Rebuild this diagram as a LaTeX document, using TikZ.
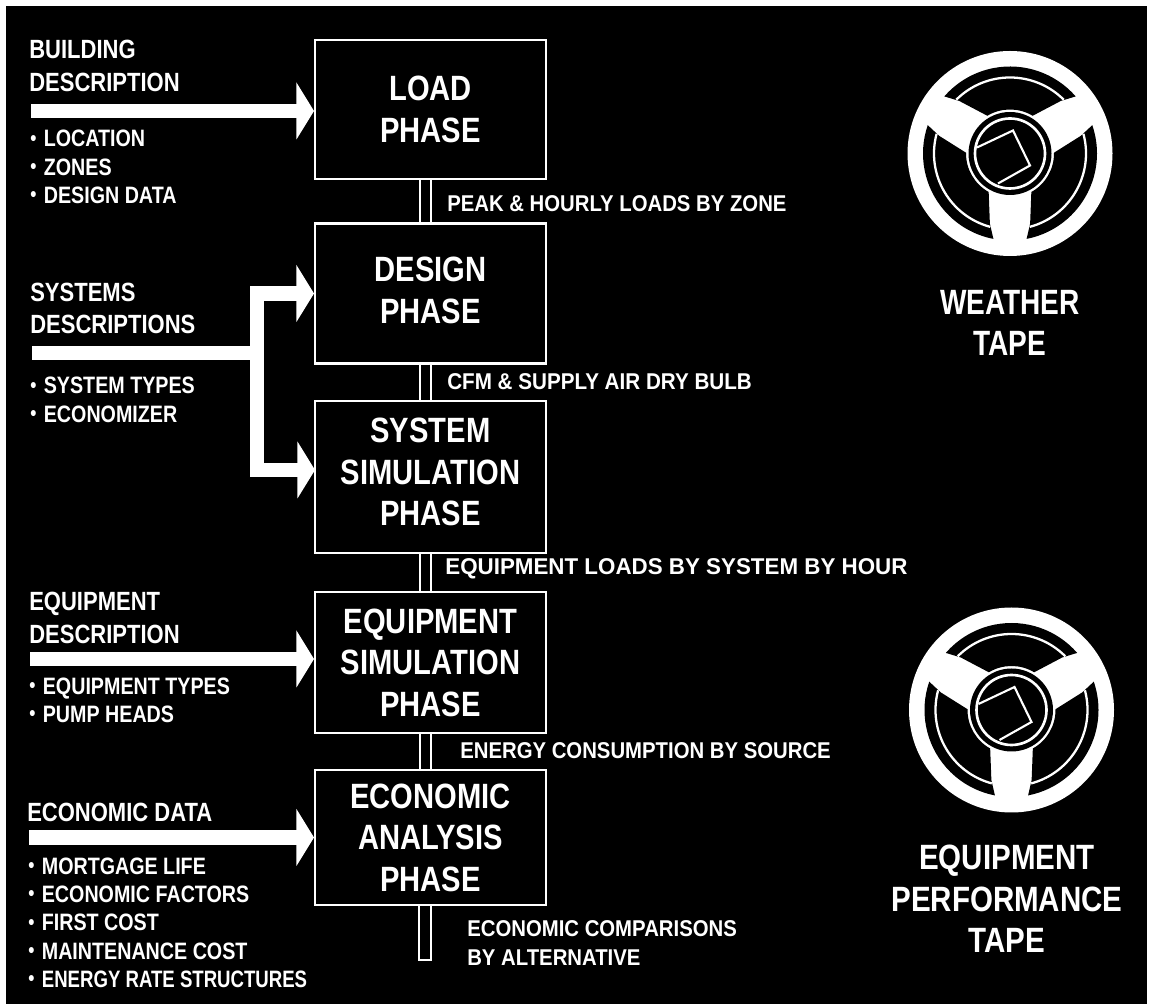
\documentclass[tikz,border=0pt]{standalone}
\usepackage{fontspec}
\setmainfont{Liberation Sans}
\usetikzlibrary{arrows.meta}
\newcommand{\listdot}{\makebox[9.3pt][l]{\raisebox{0.08em}{\fontsize{12}{12}\selectfont\textbullet}}}
\tikzset{
phasebox/.style={draw=white,line width=1.4pt,xscale=0.83,minimum width=5.566cm,align=center,text=white,inner sep=0pt,font=\bfseries\fontsize{20}{23.7}\selectfont,text depth=0pt},
tapetext/.style={align=center,text=white,xscale=0.84,font=\bfseries\fontsize{20}{23.5}\selectfont},
headtext/.style={anchor=north west,align=left,text=white,inner sep=0pt,xscale=0.835,font=\bfseries\fontsize{15}{18.5}\selectfont},
listtext/.style={anchor=north west,align=left,text=white,inner sep=0pt,xscale=0.83,font=\bfseries\fontsize{13.5}{16.1}\selectfont},
flowtext/.style={anchor=west,text=white,inner sep=0pt,xscale=0.89,font=\bfseries\fontsize{13}{16.5}\selectfont},
flow/.style={draw=white,line width=8pt},
flowarrow/.style={flow,-{Triangle[length=10pt,width=32pt]}},
pipe/.style={draw=white,line width=1.4pt,double=black,double distance=5pt},
tapereel/.pic={
\fill[white](0,0)circle[radius=102.5];
\foreach \a in {90,210,330}{
\fill[black](\a-49:87)arc[start angle=\a-49,end angle=\a+49,radius=87]--(\a+44:73)--(\a+31:44)
arc[start angle=\a+31,end angle=\a-31,radius=44]--(\a-44:73)--cycle;
\draw[white,line width=1.3pt](\a-45:76)arc[start angle=\a-45,end angle=\a+45,radius=76];
}
\fill[black](0,0)circle[radius=41.5];
\draw[white,line width=1.5pt](0,0)circle[radius=35];
\draw[white,line width=1.2pt](-33,6)--(3,23)--(20,-12)--(-12,-30);
}
}
\begin{document}
\begin{tikzpicture}[x=0.02cm,y=0.02cm]
\useasboundingbox(0,0)rectangle(1153,1004);
\fill[white](0,0)rectangle(1153,1004);
\fill[black](6,0)rectangle(1147,998);
% phase boxes
\node[phasebox,minimum height=2.78cm](load)at(430.5,894.5){LOAD\\PHASE};
\node[phasebox,minimum height=2.8cm,text depth=3.4pt](design)at(430.5,710.5){DESIGN\\PHASE};
\node[phasebox,minimum height=3.04cm,text depth=5.6pt](system)at(430.5,527){SYSTEM\\SIMULATION\\PHASE};
\node[phasebox,minimum height=2.82cm](equipment)at(430.5,341.5){EQUIPMENT\\SIMULATION\\PHASE};
\node[phasebox,minimum height=2.7cm](economic)at(430.5,166.5){ECONOMIC\\ANALYSIS\\PHASE};
% links between boxes
\coordinate(pipex)at(425.5,0);
\coordinate(pipel)at(419,0);
\coordinate(piper)at(431,0);
\draw[pipe](load.south-|pipex)--(design.north-|pipex);
\draw[pipe](design.south-|pipex)--(system.north-|pipex);
\draw[pipe](system.south-|pipex)--(equipment.north-|pipex);
\draw[pipe](equipment.south-|pipex)--(economic.north-|pipex);
\coordinate(pipeend)at(425,44);
\draw[white,line width=1.4pt](economic.south-|pipel)|-(pipeend)-|(economic.south-|piper);
% inputs
\coordinate(loadin)at(31,893);
\coordinate(sysin)at(32,651);
\coordinate(sysjoin)at(257,651);
\coordinate(sysout)at(315,534);
\coordinate(equipin)at(30,345);
\coordinate(econin)at(29,166.5);
\draw[flowarrow](loadin)--(load.west|-loadin);
\draw[flow](sysin)--(sysjoin);
\draw[flowarrow](sysjoin)|-(design.west);
\draw[flowarrow](sysjoin)|-(sysout);
\draw[flowarrow](equipin)--(equipment.west|-equipin);
\draw[flowarrow](econin)--(economic.west|-econin);
% left texts
\node[headtext](buildhead)at(29,964){BUILDING\\DESCRIPTION};
\node[listtext](buildlist)at(30,874){\listdot LOCATION\\\listdot ZONES\\\listdot DESIGN DATA};
\node[headtext](syshead)at(30,721.5){SYSTEMS\\DESCRIPTIONS};
\node[listtext](syslist)at(30,627){\listdot SYSTEM TYPES\\\listdot ECONOMIZER};
\node[headtext](equiphead)at(29,412){EQUIPMENT\\DESCRIPTION};
\node[listtext](equiplist)at(29,326.5){\listdot EQUIPMENT TYPES\\\listdot PUMP HEADS};
\node[headtext](econhead)at(27,201){ECONOMIC DATA};
\node[listtext](econlist)at(28,146.5){\listdot MORTGAGE LIFE\\\listdot ECONOMIC FACTORS\\\listdot FIRST COST\\\listdot MAINTENANCE COST\\\listdot \scalebox{0.945}[1]{ENERGY RATE STRUCTURES}};
% flow labels
\node[flowtext](peak)at(447,800){PEAK \& HOURLY LOADS BY ZONE};
\node[flowtext,xscale=1.015](cfm)at(447,622){CFM \& SUPPLY AIR DRY BULB};
\node[flowtext,xscale=1.1](loads)at(445,435){EQUIPMENT LOADS BY SYSTEM BY HOUR};
\node[flowtext](energy)at(460,253){ENERGY CONSUMPTION BY SOURCE};
\node[flowtext,align=left](compare)at(467,61){ECONOMIC COMPARISONS\\BY ALTERNATIVE};
% tapes
\pic at(1010,850.5){tapereel};
\pic at(1011.5,294){tapereel};
\node[tapetext,xscale=0.95](weather)at(1010,681){WEATHER\\TAPE};
\node[tapetext](perftape)at(1007,105){EQUIPMENT\\PERFORMANCE\\TAPE};
\end{tikzpicture}
\end{document}
